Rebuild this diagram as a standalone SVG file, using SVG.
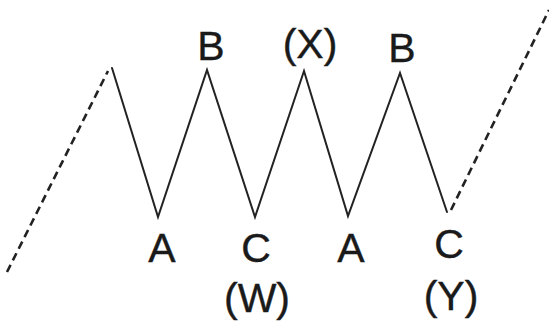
<svg xmlns="http://www.w3.org/2000/svg" width="549" height="323" viewBox="0 0 549 323">
<style>
.solid{fill:none;stroke:#222;stroke-width:2;stroke-linejoin:miter;stroke-linecap:round}
.dash{fill:none;stroke:#222;stroke-width:2.6;stroke-dasharray:8 5}
.lbl{font-family:"Liberation Sans",Arial,sans-serif;font-size:41px;fill:#1a1a1a;text-anchor:middle;stroke:#1a1a1a;stroke-width:0.4}
</style>
<rect width="549" height="323" fill="#fff"/>
<g id="connectors">
<path class="dash" d="M7,272 L108,71"/>
<polyline class="solid" points="112,68 158,217 207,70 255,217 304,71 348,216 400,73 447,212"/>
<path class="dash" d="M451,210 L549,10"/>
</g>
<g id="label-B1"><text class="lbl" x="211" y="60">B</text></g>
<g id="label-X"><text class="lbl" x="310" y="58">(X)</text></g>
<g id="label-B2"><text class="lbl" x="402" y="62">B</text></g>
<g id="label-A1"><text class="lbl" x="162" y="262">A</text></g>
<g id="label-C1"><text class="lbl" x="256" y="262">C</text></g>
<g id="label-W"><text class="lbl" x="257" y="312">(W)</text></g>
<g id="label-A2"><text class="lbl" x="351" y="262">A</text></g>
<g id="label-C2"><text class="lbl" x="449" y="258">C</text></g>
<g id="label-Y"><text class="lbl" x="451" y="310">(Y)</text></g>
</svg>
